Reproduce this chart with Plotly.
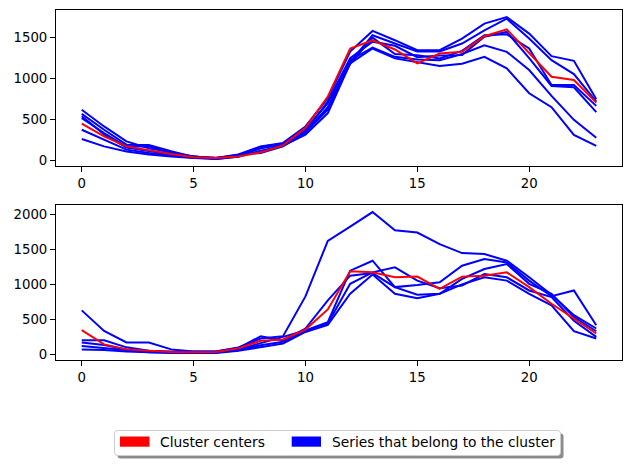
import plotly.graph_objects as go

hours = list(range(24))

# Top cluster
top_center = [450, 295, 173, 125, 80, 40, 30, 50, 100, 185, 400, 780, 1367, 1468, 1355, 1185, 1306, 1326, 1516, 1601, 1314, 1023, 983, 707]
top_a = [263, 173, 110, 75, 50, 30, 20, 45, 120, 180, 315, 578, 1185, 1367, 1246, 1200, 1152, 1180, 1265, 1124, 821, 651, 312, 178]
top_b = [376, 250, 133, 93, 60, 35, 25, 55, 150, 200, 340, 620, 1225, 1379, 1265, 1233, 1225, 1300, 1407, 1326, 1104, 788, 497, 279]
top_c = [619, 416, 234, 150, 100, 50, 30, 73, 173, 215, 416, 760, 1330, 1581, 1468, 1346, 1346, 1488, 1670, 1750, 1549, 1274, 1217, 748]
top_d = [570, 376, 194, 190, 113, 45, 35, 60, 160, 190, 380, 700, 1200, 1529, 1428, 1330, 1330, 1428, 1589, 1730, 1488, 1225, 1055, 719]
top_e = [518, 336, 170, 175, 90, 40, 28, 70, 93, 173, 350, 650, 1180, 1500, 1300, 1286, 1246, 1338, 1530, 1540, 1367, 922, 922, 667]
top_f = [540, 320, 160, 113, 75, 52, 20, 50, 170, 205, 360, 720, 1250, 1450, 1400, 1260, 1280, 1286, 1510, 1569, 1250, 910, 894, 591]

# Bottom cluster
bot_center = [345, 142, 71, 47, 33, 30, 35, 85, 193, 212, 354, 642, 1185, 1171, 1100, 1110, 936, 1110, 1124, 1171, 959, 723, 510, 298]
bot_h = [628, 335, 170, 170, 71, 40, 40, 99, 227, 260, 827, 1621, 1824, 2032, 1772, 1739, 1574, 1446, 1432, 1337, 1100, 850, 560, 369]
bot_p = [202, 202, 100, 50, 40, 35, 40, 90, 259, 200, 369, 770, 1124, 1160, 960, 990, 1030, 1266, 1361, 1313, 1053, 830, 912, 415]
bot_q = [170, 132, 70, 40, 30, 25, 30, 70, 156, 250, 340, 460, 1195, 1337, 959, 851, 865, 1078, 1219, 1290, 1007, 865, 533, 330]
bot_r = [120, 90, 50, 30, 25, 20, 25, 60, 130, 180, 330, 440, 1007, 1171, 1242, 1053, 944, 983, 1148, 1100, 912, 817, 480, 250]
bot_s = [71, 61, 40, 25, 20, 20, 20, 50, 108, 156, 320, 420, 865, 1139, 865, 803, 865, 1000, 1100, 1053, 865, 699, 330, 227]

top_series = [top_a, top_b, top_c, top_d, top_e, top_f]
bot_series = [bot_h, bot_p, bot_q, bot_r, bot_s]

legend_labels = ["Cluster centers", "Series that belong to the cluster"]
x_ticks = [0, 5, 10, 15, 20]

W, H = 630, 465
ML, MR, MT, MB = 56, 8, 10, 105
PW, PH = W - ML - MR, H - MT - MB


def px(x):
    return (x - ML) / PW


def py(y):
    return (H - MB - y) / PH


def rounded_rect(x0, y0, x1, y1, r):
    # pixel coords -> paper path with rounded corners
    X = lambda v: f"{px(v):.5f}"
    Y = lambda v: f"{py(v):.5f}"
    return (f"M {X(x0 + r)},{Y(y0)} L {X(x1 - r)},{Y(y0)} Q {X(x1)},{Y(y0)} {X(x1)},{Y(y0 + r)} "
            f"L {X(x1)},{Y(y1 - r)} Q {X(x1)},{Y(y1)} {X(x1 - r)},{Y(y1)} "
            f"L {X(x0 + r)},{Y(y1)} Q {X(x0)},{Y(y1)} {X(x0)},{Y(y1 - r)} "
            f"L {X(x0)},{Y(y0 + r)} Q {X(x0)},{Y(y0)} {X(x0 + r)},{Y(y0)} Z")


BLUE = "#0000ff"
RED = "#ff0000"
FONT = "DejaVu Sans"
LW = 2

fig = go.Figure()
for s in top_series:
    fig.add_trace(go.Scatter(x=hours, y=s, mode="lines", line=dict(color=BLUE, width=LW),
                             xaxis="x", yaxis="y", showlegend=False, hoverinfo="skip"))
fig.add_trace(go.Scatter(x=hours, y=top_center, mode="lines", line=dict(color=RED, width=LW),
                         xaxis="x", yaxis="y", showlegend=False, hoverinfo="skip"))
for s in bot_series:
    fig.add_trace(go.Scatter(x=hours, y=s, mode="lines", line=dict(color=BLUE, width=LW),
                             xaxis="x2", yaxis="y2", showlegend=False, hoverinfo="skip"))
fig.add_trace(go.Scatter(x=hours, y=bot_center, mode="lines", line=dict(color=RED, width=LW),
                         xaxis="x2", yaxis="y2", showlegend=False, hoverinfo="skip"))


def rng(series_list):
    lo = min(min(s) for s in series_list)
    hi = max(max(s) for s in series_list)
    m = (hi - lo) * 0.05
    return [lo - m, hi + m]


xr = [hours[0] - 0.05 * (hours[-1] - hours[0]), hours[-1] + 0.05 * (hours[-1] - hours[0])]
axis_common = dict(showline=True, linecolor="black", linewidth=1, mirror=True, ticks="outside",
                   ticklen=5, tickwidth=1, tickcolor="black", showgrid=False, zeroline=False,
                   tickfont=dict(family=FONT, size=13.3, color="black"))

fig.update_layout(
    width=W, height=H,
    margin=dict(l=ML, r=MR, t=MT, b=MB),
    paper_bgcolor="white", plot_bgcolor="white",
    showlegend=False,
    xaxis=dict(domain=[0, 1], anchor="y", range=xr, tickvals=x_ticks, **axis_common),
    yaxis=dict(domain=[py(166), 1], anchor="x", range=rng(top_series + [top_center]),
               tickvals=[0, 500, 1000, 1500], **axis_common),
    xaxis2=dict(domain=[0, 1], anchor="y2", range=xr, tickvals=x_ticks, **axis_common),
    yaxis2=dict(domain=[0, py(205)], anchor="x2", range=rng(bot_series + [bot_center]),
                tickvals=[0, 500, 1000, 1500, 2000], **axis_common),
)

# Legend drawn with shapes and text
shapes = [
    dict(type="path", xref="paper", yref="paper", path=rounded_rect(117.5, 433.5, 563.5, 458.5, 3),
         fillcolor="#8c8c8c", line=dict(width=0), layer="above"),
    dict(type="path", xref="paper", yref="paper", path=rounded_rect(114.5, 430.5, 560.5, 455.5, 3),
         fillcolor="white", line=dict(color="#cccccc", width=1), layer="above"),
    dict(type="rect", xref="paper", yref="paper", x0=px(120), x1=px(149.5), y0=py(436.5), y1=py(446.7),
         fillcolor=RED, line=dict(width=0), layer="above"),
    dict(type="rect", xref="paper", yref="paper", x0=px(291.7), x1=px(321), y0=py(436.5), y1=py(446.7),
         fillcolor=BLUE, line=dict(width=0), layer="above"),
]
fig.update_layout(shapes=shapes)
fig.add_annotation(x=px(158), y=py(442), xref="paper", yref="paper", text=legend_labels[0],
                   showarrow=False, xanchor="left", yanchor="middle",
                   font=dict(family=FONT, size=13.8, color="black"))
fig.add_annotation(x=px(329.5), y=py(442), xref="paper", yref="paper", text=legend_labels[1],
                   showarrow=False, xanchor="left", yanchor="middle",
                   font=dict(family=FONT, size=13.8, color="black"))

fig.write_html("out.html")
